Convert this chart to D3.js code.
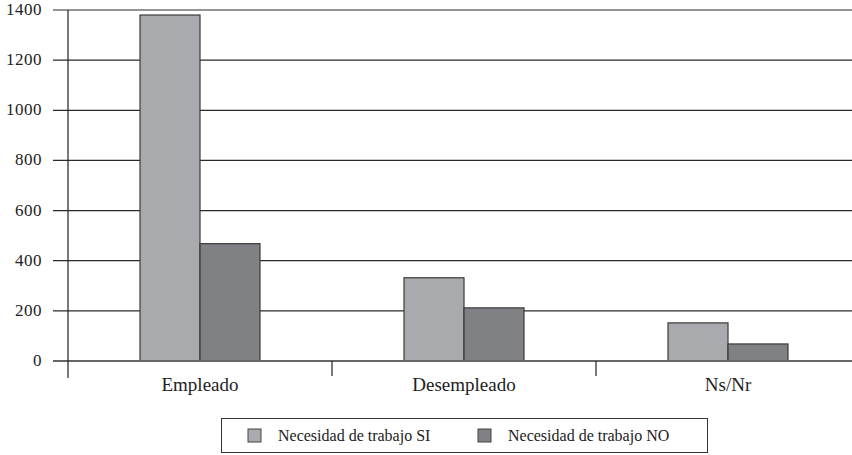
<!DOCTYPE html>
<html><head><meta charset="utf-8">
<script src="https://cdn.jsdelivr.net/npm/d3@7"></script>
<style>body{margin:0;background:#fff}</style>
</head><body>
<svg id="c" width="852" height="455"></svg>
<script>
const categories = ["Empleado", "Desempleado", "Ns/Nr"];
const seriesNames = ["Necesidad de trabajo SI", "Necesidad de trabajo NO"];
const valuesSI = [1380, 332, 152];
const valuesNO = [468, 212, 68];
const yTicks = [0, 200, 400, 600, 800, 1000, 1200, 1400];
const yTickLabels = ["0", "200", "400", "600", "800", "1000", "1200", "1400"];

const colors = ["#a9aaad", "#808184"];
const svg = d3.select("#c");
const font = "'Liberation Serif', 'DejaVu Serif', serif";

const x = d3.scaleBand().domain(categories).range([68, 860]).paddingInner(0).paddingOuter(0);
const y = d3.scaleLinear().domain([0, 1400]).range([361, 10]);
const xs = d3.scaleBand().domain([0, 1]).range([0, 120]);

// gridlines
svg.append("g").selectAll("line").data(yTicks.filter(d => d > 0)).join("line")
  .attr("x1", 53).attr("x2", 852).attr("y1", d => y(d)).attr("y2", d => y(d))
  .attr("stroke", "#2a2a2a").attr("stroke-width", 1.2);

// y tick labels
svg.append("g").selectAll("text").data(yTicks).join("text")
  .attr("x", 42).attr("y", d => y(d) + 5).attr("text-anchor", "end")
  .attr("font-family", font).attr("font-size", 17).attr("letter-spacing", 0.5).attr("fill", "#222")
  .text((d, i) => yTickLabels[i]);

// bars
const data = categories.map((c, i) => ({c, v: [valuesSI[i], valuesNO[i]]}));
const g = svg.append("g");
data.forEach(d => {
  const x0 = x(d.c) + (x.bandwidth() - 120) / 2;
  d.v.forEach((v, j) => {
    g.append("rect").attr("x", x0 + xs(j)).attr("y", y(v))
      .attr("width", xs.bandwidth()).attr("height", y(0) - y(v))
      .attr("fill", colors[j]).attr("stroke", "#3a3a3a").attr("stroke-width", 1.2);
  });
});

// zero line
svg.append("line").attr("x1", 53).attr("x2", 852).attr("y1", y(0)).attr("y2", y(0))
  .attr("stroke", "#666").attr("stroke-width", 2);

// y axis line
svg.append("line").attr("x1", 68).attr("x2", 68).attr("y1", 10).attr("y2", 378)
  .attr("stroke", "#222").attr("stroke-width", 1.2);

// x category ticks
svg.append("g").selectAll("line").data(categories.slice(1)).join("line")
  .attr("x1", d => x(d)).attr("x2", d => x(d)).attr("y1", 361).attr("y2", 376)
  .attr("stroke", "#222").attr("stroke-width", 1.2);

// x labels
svg.append("g").selectAll("text").data(categories).join("text")
  .attr("x", d => x(d) + x.bandwidth() / 2).attr("y", 391).attr("text-anchor", "middle")
  .attr("font-family", font).attr("font-size", 19).attr("fill", "#222").text(d => d);

// legend
const lg = svg.append("g");
lg.append("rect").attr("x", 221.5).attr("y", 418.5).attr("width", 486).attr("height", 34)
  .attr("fill", "#fff").attr("stroke", "#333").attr("stroke-width", 1);
const lx = [248, 478];
seriesNames.forEach((s, i) => {
  lg.append("rect").attr("x", lx[i]).attr("y", 429).attr("width", 13).attr("height", 13)
    .attr("fill", colors[i]).attr("stroke", "#444").attr("stroke-width", 1);
  lg.append("text").attr("x", lx[i] + 30).attr("y", 441).attr("font-family", font)
    .attr("font-size", 16).attr("fill", "#222").text(s);
});
</script>
</body></html>
